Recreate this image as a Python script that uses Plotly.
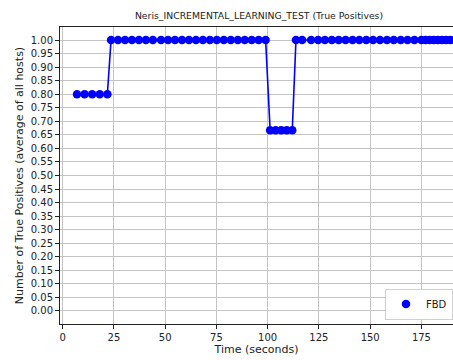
import plotly.graph_objects as go

# Sampling times (seconds) and the averaged true-positive rate per sample
times = [
    7.0, 10.7, 14.4, 18.1, 21.8,
    23.6, 27.0, 30.4, 33.8, 37.2, 40.6, 44.0,
    48.0, 51.4, 54.8, 58.2, 61.6, 65.0, 68.4, 71.8, 75.2, 78.6, 82.0, 85.4,
    88.8, 92.2, 95.6, 99.0,
    101.2, 103.9, 106.6, 109.3, 112.0,
    113.8, 116.8,
    121.2, 124.6, 127.9, 131.3, 134.6, 138.0, 141.4, 144.7, 148.1, 151.4,
    154.8, 158.2, 161.5, 164.9, 168.2, 171.6, 175.0,
    177.0, 179.0, 181.0, 183.0, 185.0, 187.0, 189.0, 191.0,
]
fbd_values = (
    [0.8] * 5
    + [1.0] * 7
    + [1.0] * 16
    + [2 / 3] * 5
    + [1.0] * 2
    + [1.0] * 17
    + [1.0] * 8
)

y_ticks = [round(0.05 * i, 2) for i in range(21)]
x_ticks = [0, 25, 50, 75, 100, 125, 150, 175]

FONT = "DejaVu Sans"
BLUE = "#0000ff"

fig = go.Figure()
# connecting line
fig.add_trace(
    go.Scatter(
        x=times,
        y=fbd_values,
        mode="lines",
        line=dict(color=BLUE, width=1.6),
        showlegend=False,
        hoverinfo="skip",
    )
)
# sample markers (legend shows the marker only)
fig.add_trace(
    go.Scatter(
        x=times,
        y=fbd_values,
        mode="markers",
        name="FBD",
        marker=dict(color=BLUE, size=8.5, symbol="circle"),
    )
)

axis_common = dict(
    showline=True,
    linecolor="#222222",
    linewidth=1,
    ticks="outside",
    ticklen=4,
    tickwidth=1,
    tickcolor="#222222",
    showgrid=True,
    gridcolor="#c4c4c4",
    gridwidth=1,
    zeroline=False,
    automargin=False,
    tickfont=dict(family=FONT, size=10, color="#222222"),
)

fig.update_layout(
    width=453,
    height=360,
    margin=dict(l=60, r=0, t=27, b=36),
    paper_bgcolor="white",
    plot_bgcolor="white",
    font=dict(family=FONT, color="#222222"),
    title=dict(
        text="Neris_INCREMENTAL_LEARNING_TEST (True Positives)",
        font=dict(family=FONT, size=9.3, color="#222222"),
        x=259 / 453,
        xanchor="center",
        y=1 - 16 / 360,
        yanchor="middle",
    ),
    xaxis=dict(
        axis_common,
        range=[-1.3, 190.4],
        tickvals=x_ticks,
        mirror=True,
        title=dict(text="Time (seconds)", font=dict(family=FONT, size=11), standoff=1),
    ),
    yaxis=dict(
        axis_common,
        range=[-0.048, 1.048],
        tickvals=y_ticks,
        tickformat=".2f",
        title=dict(
            text="Number of True Positives (average of all hosts)",
            font=dict(family=FONT, size=11),
            standoff=4,
        ),
    ),
    showlegend=True,
    legend=dict(
        x=1,
        xanchor="right",
        y=0.015,
        yanchor="bottom",
        itemwidth=30,
        bgcolor="white",
        bordercolor="#d0d0d0",
        borderwidth=1,
        font=dict(family=FONT, size=10, color="#222222"),
    ),
)

fig.write_html("out.html")
